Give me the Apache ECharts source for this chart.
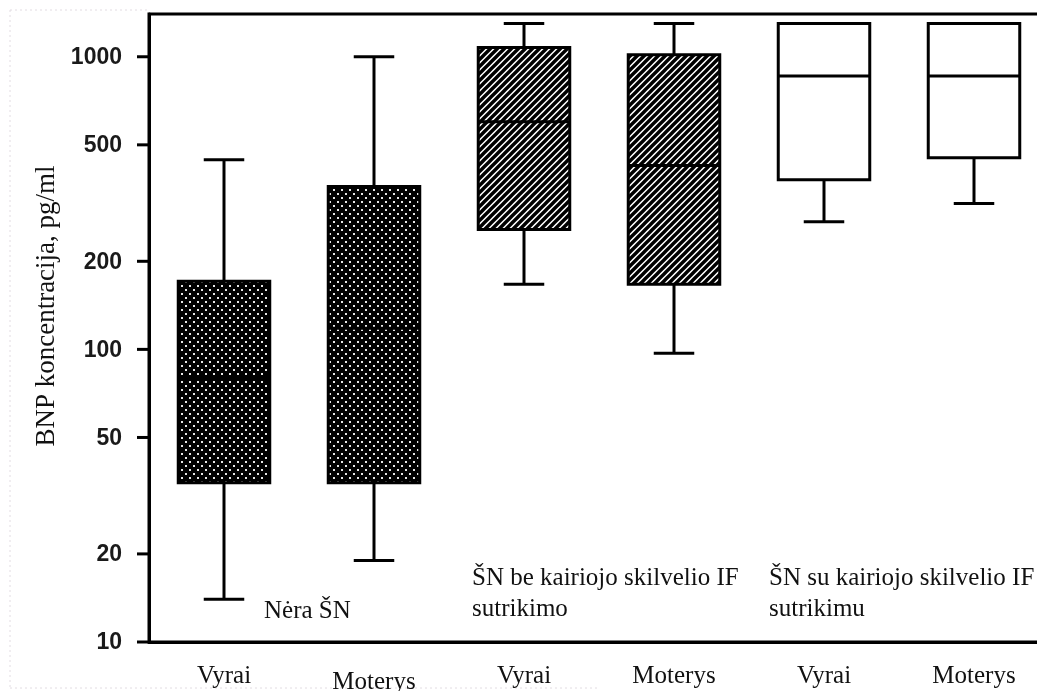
<!DOCTYPE html>
<html>
<head>
<meta charset="utf-8">
<script src="https://cdn.jsdelivr.net/npm/echarts@6/dist/echarts.min.js"></script>
<style>
html,body{margin:0;padding:0;background:#fff;}
#chart{width:1037px;height:691px;}
</style>
</head>
<body>
<div id="chart"></div>
<script>
// ---- data ----
const categories = ['Vyrai', 'Moterys', 'Vyrai', 'Moterys', 'Vyrai', 'Moterys'];
const minVals = [14, 19, 167, 97, 273, 315];
const q1Vals  = [35, 35, 257, 167, 380, 452];
const medVals = [80, 118, 600, 425, 860, 860];
const q3Vals  = [171, 360, 1075, 1015, 1300, 1300];
const maxVals = [445, 1000, 1300, 1300, 1300, 1300];
const yTicks = [10, 20, 50, 100, 200, 500, 1000];
const yTitle = 'BNP koncentracija, pg/ml';
const groupLabels = ['Nėra ŠN', 'ŠN be kairiojo skilvelio IF\nsutrikimo', 'ŠN su kairiojo skilvelio IF\nsutrikimu'];

// ---- patterns ----
function dotPattern() {
  const c = document.createElement('canvas');
  c.width = 8; c.height = 8;
  const g = c.getContext('2d');
  g.fillStyle = '#000'; g.fillRect(0, 0, 8, 8);
  g.fillStyle = '#e6e6e6';
  g.fillRect(1, 1, 2, 2);
  g.fillRect(5, 5, 2, 2);
  return {image: c, repeat: 'repeat'};
}
function hatchPattern() {
  const s = 7;
  const c = document.createElement('canvas');
  c.width = s; c.height = s;
  const g = c.getContext('2d');
  g.fillStyle = '#fff'; g.fillRect(0, 0, s, s);
  g.strokeStyle = '#000'; g.lineWidth = 3.4;
  g.beginPath();
  g.moveTo(-s, s); g.lineTo(s, -s);
  g.moveTo(0, 2 * s); g.lineTo(2 * s, 0);
  g.moveTo(-s, 2 * s); g.lineTo(2 * s, -s);
  g.stroke();
  return {image: c, repeat: 'repeat'};
}
const fills = [dotPattern(), dotPattern(), hatchPattern(), hatchPattern(), '#fff', '#fff'];

const boxData = categories.map((c, i) => [i, minVals[i], q1Vals[i], medVals[i], q3Vals[i], maxVals[i]]);
const tickData = yTicks.map(v => [0, v]);

const chart = echarts.init(document.getElementById('chart'));

function renderBox(params, api) {
  const i = api.value(0);
  const band = params.coordSys.width / categories.length;
  const cx = api.coord([i, api.value(1)])[0];
  const yMin = api.coord([i, api.value(1)])[1];
  const yQ1 = api.coord([i, api.value(2)])[1];
  const yMed = api.coord([i, api.value(3)])[1];
  const yQ3 = api.coord([i, api.value(4)])[1];
  const yMax = api.coord([i, api.value(5)])[1];
  const bw = band * 0.61, cw = band * 0.27;
  const ls = {stroke: '#000', lineWidth: 3};
  return {
    type: 'group',
    children: [
      {type: 'line', shape: {x1: cx, y1: yQ3, x2: cx, y2: yMax}, style: ls},
      {type: 'line', shape: {x1: cx, y1: yQ1, x2: cx, y2: yMin}, style: ls},
      {type: 'line', shape: {x1: cx - cw / 2, y1: yMax, x2: cx + cw / 2, y2: yMax}, style: ls},
      {type: 'line', shape: {x1: cx - cw / 2, y1: yMin, x2: cx + cw / 2, y2: yMin}, style: ls},
      {type: 'rect', shape: {x: cx - bw / 2, y: yQ3, width: bw, height: yQ1 - yQ3},
        style: {fill: fills[params.dataIndex], stroke: '#000', lineWidth: 3}},
      {type: 'line', shape: {x1: cx - bw / 2, y1: yMed, x2: cx + bw / 2, y2: yMed}, style: ls}
    ]
  };
}

function renderTick(params, api) {
  const x0 = params.coordSys.x;
  const y = api.coord([0, api.value(1)])[1];
  return {
    type: 'group',
    children: [
      {type: 'line', shape: {x1: x0 - 12, y1: y, x2: x0, y2: y}, style: {stroke: '#000', lineWidth: 3}},
      {type: 'text', style: {x: x0 - 27, y: y + 1, text: String(api.value(1)), textAlign: 'right', textVerticalAlign: 'middle',
        font: 'bold 23px "Liberation Sans", Arial, sans-serif', fill: '#1a1a1a'}}
    ]
  };
}

const serif = '"Liberation Serif", "Times New Roman", serif';

chart.setOption({
  animation: false,
  grid: {left: 149, top: 14, width: 900, height: 628, show: true, borderColor: '#000', borderWidth: 3,
    containLabel: false, outerBoundsMode: 'none'},
  xAxis: {
    type: 'category',
    data: categories,
    axisLine: {lineStyle: {color: '#000', width: 3}},
    axisTick: {alignWithLabel: true, length: 11, lineStyle: {color: '#000', width: 3}},
    axisLabel: {
      fontFamily: serif, fontSize: 25, color: '#111', margin: 22, interval: 0,
      formatter: (v, idx) => idx === 1 ? '{low|' + v + '}' : v,
      rich: {low: {fontFamily: serif, fontSize: 25, color: '#111', padding: [6, 0, 0, 0]}}
    },
    splitLine: {show: false}
  },
  yAxis: {
    type: 'log',
    logBase: 10,
    min: 10,
    max: 1400,
    axisLine: {show: true, lineStyle: {color: '#000', width: 3}},
    axisTick: {show: false},
    axisLabel: {show: false},
    splitLine: {show: false}
  },
  series: [
    {type: 'custom', renderItem: renderTick, data: tickData, clip: false, silent: true},
    {type: 'custom', renderItem: renderBox, data: boxData, clip: false, silent: true}
  ],
  graphic: [
    {type: 'text', x: 47, y: 306, rotation: Math.PI / 2,
      style: {text: yTitle, font: '27px ' + serif, fill: '#111', textAlign: 'center', textVerticalAlign: 'middle'}},
    {type: 'text', x: 264, y: 611, style: {text: groupLabels[0], font: '25px ' + serif, fill: '#111', textVerticalAlign: 'middle', lineHeight: 31}},
    {type: 'text', x: 472, y: 594, style: {text: groupLabels[1], font: '25px ' + serif, fill: '#111', textVerticalAlign: 'middle', lineHeight: 31}},
    {type: 'text', x: 769, y: 594, style: {text: groupLabels[2], font: '25px ' + serif, fill: '#111', textVerticalAlign: 'middle', lineHeight: 31}},
    {type: 'line', shape: {x1: 10, y1: 10, x2: 10, y2: 688}, style: {stroke: '#e2dce2', lineWidth: 1, lineDash: [2, 3]}},
    {type: 'line', shape: {x1: 10, y1: 10, x2: 148, y2: 10}, style: {stroke: '#e2dce2', lineWidth: 1, lineDash: [2, 3]}},
    {type: 'line', shape: {x1: 10, y1: 688, x2: 600, y2: 688}, style: {stroke: '#e2dce2', lineWidth: 1, lineDash: [2, 3]}}
  ]
});
</script>
</body>
</html>
